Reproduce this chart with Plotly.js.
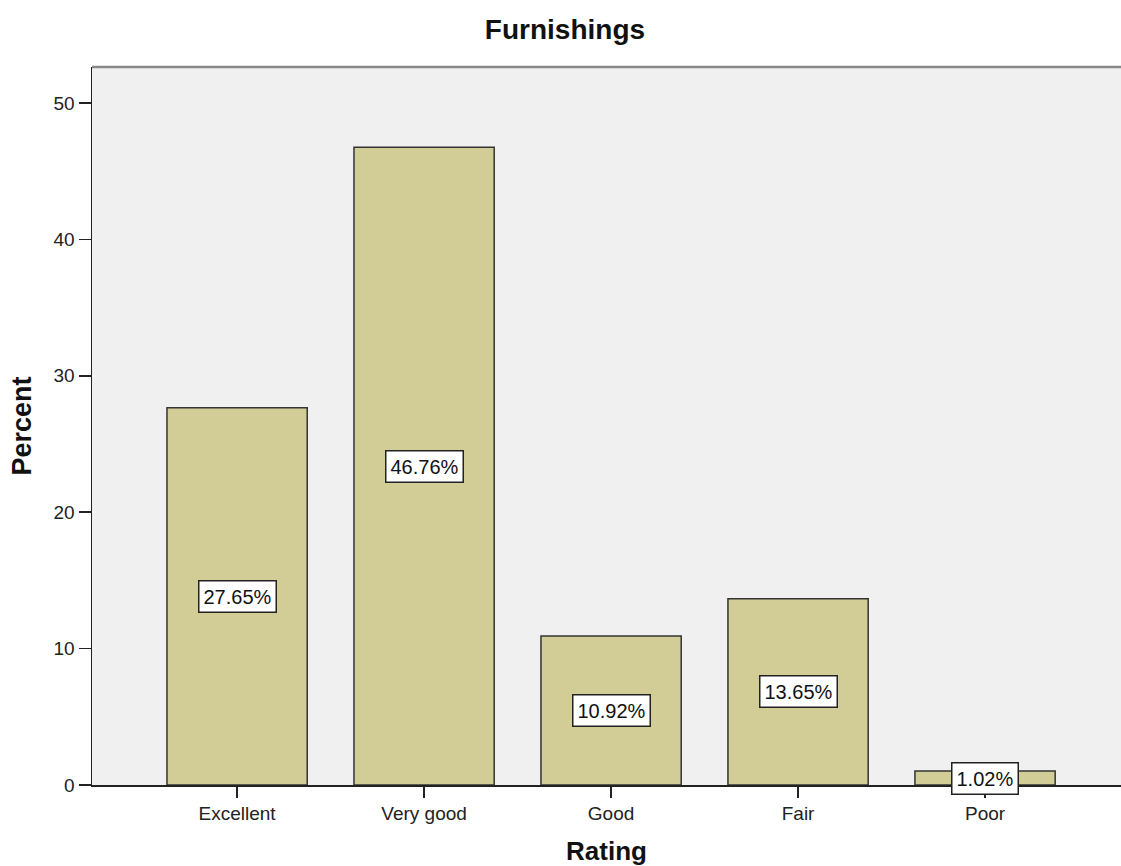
<!DOCTYPE html>
<html>
<head>
<meta charset="utf-8">
<script src="https://cdn.plot.ly/plotly-3.0.1.min.js"></script>
<style>html,body{margin:0;padding:0;background:#fff;}#chart{width:1121px;height:866px;}</style>
</head>
<body>
<div id="chart"></div>
<script>
const categories = ["Excellent", "Very good", "Good", "Fair", "Poor"];
const percents = [27.65, 46.76, 10.92, 13.65, 1.02];
const labels = ["27.65%", "46.76%", "10.92%", "13.65%", "1.02%"];

const font = "Liberation Sans, Arial, sans-serif";

const trace = {
  type: "bar",
  x: categories.map((c, i) => i),
  y: percents,
  width: 0.75,
  marker: { color: "#d2cd96", line: { color: "#333333", width: 1.5 } },
  hoverinfo: "skip"
};

const annotations = percents.map((v, i) => ({
  x: i, y: v / 2, xref: "x", yref: "y",
  text: labels[i], showarrow: false,
  font: { family: font, size: 20, color: "#111" },
  bgcolor: "#ffffff", bordercolor: "#222222", borderwidth: 1.5, borderpad: 4
}));

const layout = {
  width: 1121, height: 866,
  margin: { l: 92, r: 0, t: 67, b: 81 },
  paper_bgcolor: "#ffffff",
  plot_bgcolor: "#f0f0f0",
  showlegend: false,
  title: { text: "<b>Furnishings</b>", font: { family: font, size: 28, color: "#111" }, x: 0.504, xref: "container", xanchor: "center", y: 0.966, yanchor: "middle" },
  xaxis: {
    range: [-0.776, 4.727],
    tickmode: "array", tickvals: categories.map((c, i) => i), ticktext: categories,
    showgrid: false, zeroline: false,
    showline: true, linecolor: "#222", linewidth: 1.5,
    ticks: "outside", ticklen: 11, tickcolor: "#222", tickwidth: 1.5,
    tickfont: { family: font, size: 19, color: "#222" },
    title: { text: "<b>Rating</b>", font: { family: font, size: 26, color: "#111" }, standoff: 19 },
    fixedrange: true
  },
  yaxis: {
    range: [0, 52.64],
    tickvals: [0, 10, 20, 30, 40, 50],
    showgrid: false, zeroline: false,
    showline: true, linecolor: "#222", linewidth: 1.5,
    ticks: "outside", ticklen: 12, tickcolor: "#222", tickwidth: 1.5,
    tickfont: { family: font, size: 19, color: "#222" },
    title: { text: "<b>Percent</b>", font: { family: font, size: 27, color: "#111" }, standoff: 14 },
    fixedrange: true
  },
  shapes: [{
    type: "line", xref: "paper", yref: "paper", x0: 0, x1: 1, y0: 1, y1: 1,
    line: { color: "#888888", width: 2.5 }
  }],
  annotations: annotations
};

Plotly.newPlot("chart", [trace], layout, { displayModeBar: false, staticPlot: true });
</script>
</body>
</html>
